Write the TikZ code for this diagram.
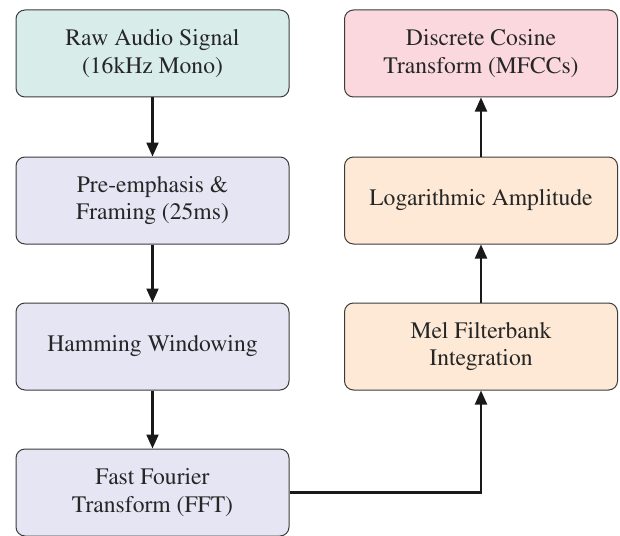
\documentclass[tikz,border=0pt]{standalone}
\usepackage[T1]{fontenc}
\renewcommand{\rmdefault}{ptm}
\usetikzlibrary{arrows.meta}
\definecolor{inputfill}{RGB}{216,236,234}
\definecolor{prepfill}{RGB}{230,229,243}
\definecolor{featfill}{RGB}{253,233,214}
\definecolor{outfill}{RGB}{250,216,221}
\definecolor{boxline}{RGB}{60,60,60}
\tikzset{
  stage/.style={draw=boxline, line width=0.5pt, rounded corners=4.5pt,
    minimum width=136.5pt, minimum height=43.5pt, inner sep=0pt,
    align=center, font=\fontsize{11.8}{13.8}\selectfont, text=black!85},
  flow/.style={line width=1.05pt, draw=black!90,
    -{Triangle[length=7pt,width=6pt]}}
}
\begin{document}
\begin{tikzpicture}[x=0.5pt,y=-0.5pt]
\useasboundingbox (0,0) rectangle (620,535);
% left column: signal preparation
\node[stage, fill=inputfill] (raw) at (152.5,53.5) {Raw Audio Signal\\(16kHz Mono)};
\node[stage, fill=prepfill] (pre) at (152.5,200.5) {Pre-emphasis \&\\Framing (25ms)};
\node[stage, fill=prepfill] (ham) at (152.5,346.5) {Hamming Windowing};
\node[stage, fill=prepfill] (fft) at (152.5,492.5) {Fast Fourier\\Transform (FFT)};
% right column: feature extraction
\node[stage, fill=featfill] (mel) at (481,346.5) {Mel Filterbank\\Integration};
\node[stage, fill=featfill] (log) at (481,200.5) {Logarithmic Amplitude};
\node[stage, fill=outfill] (dct) at (481,53.5) {Discrete Cosine\\Transform (MFCCs)};
% connectors
\draw[flow] (raw) -- (pre);
\draw[flow] (pre) -- (ham);
\draw[flow] (ham) -- (fft);
\draw[flow] (fft.east) -| (mel.south);
\draw[flow] (mel) -- (log);
\draw[flow] (log) -- (dct);
\end{tikzpicture}
\end{document}
